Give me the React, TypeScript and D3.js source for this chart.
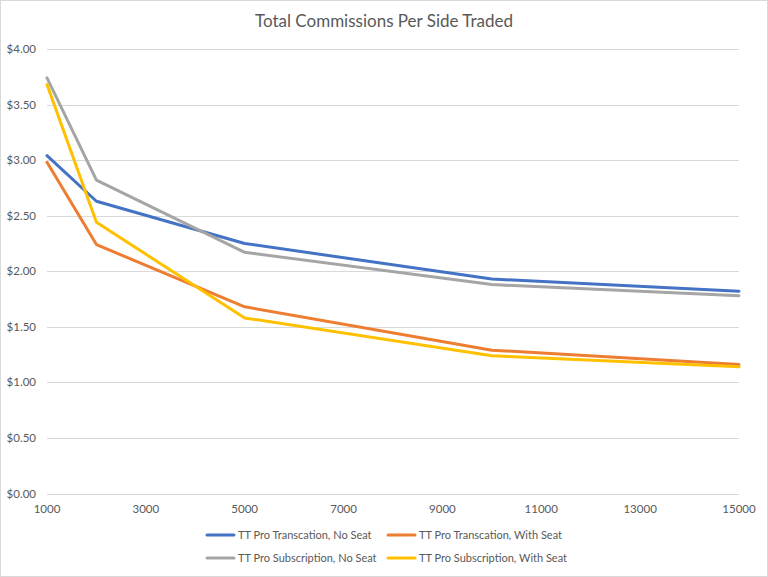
import React, { useEffect, useRef } from 'react';
import * as d3 from 'd3';

const volumes = [1000, 2000, 5000, 10000, 15000];
const xTicks = [1000, 3000, 5000, 7000, 9000, 11000, 13000, 15000];
const yTicks = [0, 0.5, 1, 1.5, 2, 2.5, 3, 3.5, 4];

const seriesNames = [
  'TT Pro Transcation, No Seat',
  'TT Pro Transcation, With Seat',
  'TT Pro Subscription, No Seat',
  'TT Pro Subscription, With Seat',
];
const seriesColors = ['#4472C4', '#ED7D31', '#A5A5A5', '#FFC000'];

const transactionNoSeat = [3.04, 2.63, 2.25, 1.93, 1.82];
const transactionWithSeat = [2.98, 2.24, 1.68, 1.29, 1.16];
const subscriptionNoSeat = [3.74, 2.82, 2.17, 1.88, 1.78];
const subscriptionWithSeat = [3.68, 2.44, 1.58, 1.24, 1.14];

const seriesValues = [transactionNoSeat, transactionWithSeat, subscriptionNoSeat, subscriptionWithSeat];

const App = () => {
  const svgRef = useRef<SVGSVGElement | null>(null);

  useEffect(() => {
    if (!svgRef.current) return;
    const svg = d3.select(svgRef.current);
    svg.selectAll('*').remove();

    const width = 768;
    const height = 577;
    const font = 'Lato, Calibri, "Open Sans", sans-serif';
    const textColor = '#595959';
    const gridColor = '#D9D9D9';

    // Chart frame
    svg.append('rect')
      .attr('x', 0.5).attr('y', 0.5)
      .attr('width', width - 1).attr('height', height - 1)
      .attr('fill', '#fff')
      .attr('stroke', gridColor);

    // Title
    svg.append('text')
      .attr('x', 384).attr('y', 27)
      .attr('text-anchor', 'middle')
      .attr('font-family', font)
      .attr('font-size', '17px')
      .attr('fill', textColor)
      .text('Total Commissions Per Side Traded');

    const x = d3.scaleLinear().domain([1000, 15000]).range([47, 739]);
    const y = d3.scaleLinear().domain([0, 4]).range([493.5, 49]);

    // Gridlines
    svg.append('g')
      .selectAll('line')
      .data(yTicks)
      .enter()
      .append('line')
      .attr('x1', x(1000)).attr('x2', x(15000))
      .attr('y1', d => Math.round(y(d)) + 0.5)
      .attr('y2', d => Math.round(y(d)) + 0.5)
      .attr('stroke', gridColor)
      .attr('stroke-width', 1);

    // Y labels
    svg.append('g')
      .selectAll('text')
      .data(yTicks)
      .enter()
      .append('text')
      .attr('x', 36)
      .attr('y', d => y(d) + 4)
      .attr('text-anchor', 'end')
      .attr('font-family', font)
      .attr('font-size', '11.5px')
      .attr('fill', textColor)
      .text(d => d3.format('$.2f')(d));

    // X labels
    svg.append('g')
      .selectAll('text')
      .data(xTicks)
      .enter()
      .append('text')
      .attr('x', d => x(d))
      .attr('y', 513)
      .attr('text-anchor', 'middle')
      .attr('font-family', font)
      .attr('font-size', '11.5px')
      .attr('fill', textColor)
      .text(d => String(d));

    // Lines
    const line = d3.line<number>()
      .x((_, i) => x(volumes[i]))
      .y(d => y(d));

    seriesValues.forEach((vals, i) => {
      svg.append('path')
        .datum(vals)
        .attr('fill', 'none')
        .attr('stroke', seriesColors[i])
        .attr('stroke-width', 3)
        .attr('stroke-linejoin', 'round')
        .attr('stroke-linecap', 'round')
        .attr('d', line);
    });

    // Legend
    const legendPos = [
      { lx: 207, ly: 535 },
      { lx: 388, ly: 535 },
      { lx: 207, ly: 558 },
      { lx: 388, ly: 558 },
    ];
    seriesNames.forEach((name, i) => {
      const g = svg.append('g')
        .attr('transform', `translate(${legendPos[i].lx}, ${legendPos[i].ly})`);
      g.append('line')
        .attr('x1', 0).attr('x2', 27)
        .attr('y1', 0).attr('y2', 0)
        .attr('stroke', seriesColors[i])
        .attr('stroke-width', 3)
        .attr('stroke-linecap', 'round');
      g.append('text')
        .attr('x', 31)
        .attr('y', 4)
        .attr('font-family', font)
        .attr('font-size', '11px')
        .attr('fill', textColor)
        .text(name);
    });
  }, []);

  return (
    <div>
      <style>{`body { margin: 0; }`}</style>
      <svg ref={svgRef} width={768} height={577} style={{ display: 'block' }}></svg>
    </div>
  );
};

export default App;
